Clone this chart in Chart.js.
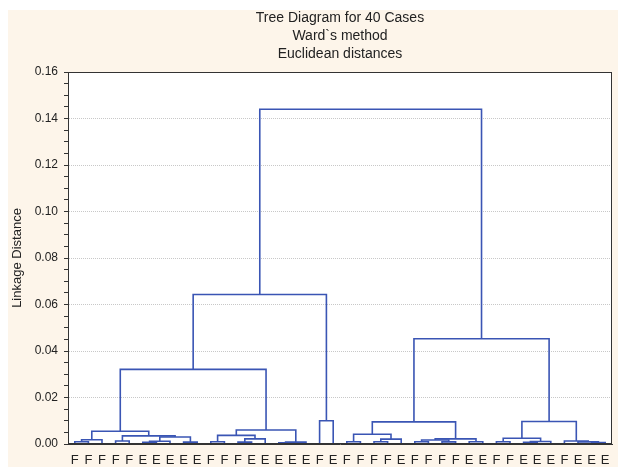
<!DOCTYPE html>
<html>
<head>
<meta charset="utf-8">
<script src="https://cdn.jsdelivr.net/npm/chart.js@4/dist/chart.umd.min.js"></script>
<style>
  html, body { margin: 0; padding: 0; background: #fff; }
  #wrap { width: 618px; height: 467px; }
</style>
</head>
<body>
<div id="wrap"><canvas id="tree"></canvas></div>
<script>
const titleLines = ['Tree Diagram for 40 Cases', 'Ward`s method', 'Euclidean distances'];
const yTitle = 'Linkage Distance';

// leaf labels, left to right
const leafLabels = [
  'F','F','F','F','F','E','E','E','E','E',
  'F','F','F','E','E','E','E','E','F','E',
  'F','F','F','F','E','F','F','F','F','E',
  'E','F','F','E','E','E','F','E','E','E'
];

// linkage table: ids 0..39 are leaves, id 40+k is merge k
const mergeA = [0, 40, 3, 5, 43, 8, 44, 42, 41,
                10, 12, 50, 49, 15, 53, 52, 48,
                18, 56,
                20, 22, 60, 59, 25, 27, 63, 29, 65, 62,
                31, 33, 70, 69, 38, 37, 36, 72, 68, 58];
const mergeB = [1, 2, 4, 6, 7, 9, 45, 46, 47,
                11, 13, 14, 51, 16, 17, 54, 55,
                19, 57,
                21, 23, 24, 61, 26, 28, 64, 30, 66, 67,
                32, 34, 35, 71, 39, 73, 74, 75, 76, 77];
const mergeHeight = [0.0010, 0.0018, 0.0013, 0.0007, 0.0012, 0.0008, 0.0030, 0.0035, 0.0055,
                     0.0010, 0.0008, 0.0022, 0.0037, 0.0005, 0.0008, 0.0060, 0.0321,
                     0.0100, 0.0643,
                     0.0010, 0.0010, 0.0021, 0.0042, 0.0010, 0.0009, 0.0017, 0.0010, 0.0022, 0.0095,
                     0.0010, 0.0007, 0.0011, 0.0025, 0.0006, 0.0009, 0.0013, 0.0097, 0.0453, 0.1440];

const yMax = 0.16;
const yMajor = 0.02;
const yMinor = 0.005;

const nLeaves = leafLabels.length;
const nodeX = leafLabels.map((_, i) => i + 1);
const nodeH = leafLabels.map(() => 0);
const datasets = [];
mergeA.forEach((a, k) => {
  const b = mergeB[k];
  const h = mergeHeight[k];
  nodeX.push((nodeX[a] + nodeX[b]) / 2);
  nodeH.push(h);
  datasets.push({
    data: [
      {x: nodeX[a], y: nodeH[a]},
      {x: nodeX[a], y: h},
      {x: nodeX[b], y: h},
      {x: nodeX[b], y: nodeH[b]}
    ],
    showLine: true,
    borderColor: '#3a55b4',
    borderWidth: 1.6,
    pointRadius: 0,
    tension: 0
  });
});

const isMajor = v => Math.abs(v / yMajor - Math.round(v / yMajor)) < 1e-6;

const frame = {
  id: 'frame',
  beforeDraw(chart) {
    const {ctx, chartArea: a} = chart;
    ctx.save();
    ctx.fillStyle = '#ffffff';
    ctx.fillRect(0, 0, chart.width, chart.height);
    ctx.fillStyle = '#fdf5ea';
    ctx.fillRect(8, 10, chart.width - 8, chart.height - 10);
    ctx.fillStyle = '#ffffff';
    ctx.fillRect(a.left, a.top, a.right - a.left, a.bottom - a.top);
    ctx.restore();
  },
  afterDraw(chart) {
    const {ctx, chartArea: a} = chart;
    ctx.save();
    ctx.strokeStyle = '#333333';
    ctx.lineWidth = 1;
    ctx.strokeRect(a.left + 0.5, a.top + 0.5, a.right - a.left - 1, a.bottom - a.top - 1);
    ctx.fillStyle = '#222222';
    ctx.font = '14px "Liberation Sans", Arial, sans-serif';
    ctx.textAlign = 'center';
    ctx.textBaseline = 'middle';
    const cx = (a.left + a.right) / 2;
    titleLines.forEach((t, i) => ctx.fillText(t, cx, 18 + i * 18));
    ctx.restore();
  }
};

new Chart(document.getElementById('tree'), {
  type: 'scatter',
  data: { datasets },
  plugins: [frame],
  options: {
    responsive: true,
    maintainAspectRatio: false,
    animation: false,
    layout: { padding: { left: 8, top: 72, right: 6, bottom: 0 } },
    plugins: {
      legend: { display: false },
      tooltip: { enabled: false },
      title: { display: false }
    },
    scales: {
      x: {
        type: 'linear',
        min: 0.5,
        max: nLeaves + 0.5,
        afterBuildTicks: axis => { axis.ticks = leafLabels.map((_, i) => ({value: i + 1})); },
        afterFit: axis => { axis.height = 23; },
        grid: { display: false },
        border: { display: true, color: '#333333' },
        ticks: {
          autoSkip: false,
          maxRotation: 0,
          color: '#222222',
          padding: 1,
          font: { family: '"Liberation Sans", Arial, sans-serif', size: 13 },
          callback: v => leafLabels[Math.round(v) - 1]
        }
      },
      y: {
        type: 'linear',
        min: 0,
        max: yMax,
        afterBuildTicks: axis => {
          const t = [];
          for (let v = 0; v <= yMax + 1e-9; v += yMinor) t.push({value: Math.round(v * 1000) / 1000});
          axis.ticks = t;
        },
        afterFit: axis => { axis.width = 60; },
        grid: {
          color: c => (c.tick && isMajor(c.tick.value) && c.tick.value > 0 && c.tick.value < yMax) ? '#c8c8c8' : 'rgba(0,0,0,0)',
          tickColor: '#333333',
          tickLength: 4,
          drawTicks: true
        },
        border: { display: true, color: '#333333', dash: [1, 1] },
        title: {
          display: true,
          text: yTitle,
          color: '#222222',
          font: { family: '"Liberation Sans", Arial, sans-serif', size: 13 },
          padding: { top: 2, bottom: 0 }
        },
        ticks: {
          autoSkip: false,
          color: '#222222',
          padding: 6,
          font: { family: '"Liberation Sans", Arial, sans-serif', size: 12 },
          callback: v => isMajor(v) ? v.toFixed(2) : ''
        }
      }
    }
  }
});
</script>
</body>
</html>
